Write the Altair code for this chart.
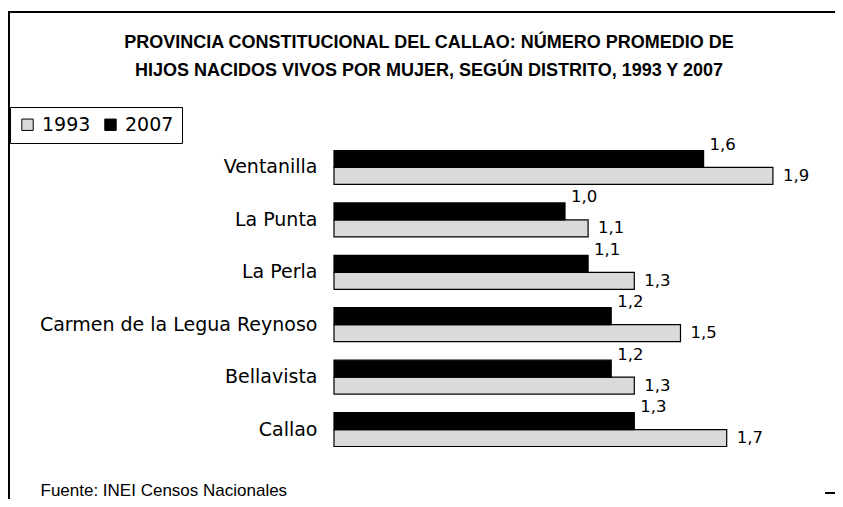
import altair as alt
import pandas as pd

distritos = ["Ventanilla", "La Punta", "La Perla", "Carmen de la Legua Reynoso", "Bellavista", "Callao"]
valores_1993 = [1.9, 1.1, 1.3, 1.5, 1.3, 1.7]
valores_2007 = [1.6, 1.0, 1.1, 1.2, 1.2, 1.3]
anios = ["1993", "2007"]

titulo = ["PROVINCIA CONSTITUCIONAL DEL CALLAO: NÚMERO PROMEDIO DE",
          "HIJOS NACIDOS VIVOS POR MUJER, SEGÚN DISTRITO, 1993 Y 2007"]
fuente = "Fuente: INEI Censos Nacionales"

rows = []
for d, a, b in zip(distritos, valores_1993, valores_2007):
    rows.append({"distrito": d, "anio": "1993", "valor": a})
    rows.append({"distrito": d, "anio": "2007", "valor": b})
df = pd.DataFrame(rows)
df["etiqueta"] = df["valor"].map(lambda v: f"{v:.1f}".replace(".", ","))

W, H = 462, 317
LEFT, TOP = 326, 132
OX, OY = LEFT + 8, TOP + 8  # plot origin on the page

LABEL_FONT = "DejaVu Sans"

base = alt.Chart(df).encode(
    y=alt.Y("distrito:N", sort=distritos,
            scale=alt.Scale(paddingInner=0.352, paddingOuter=0.2),
            axis=alt.Axis(title=None, ticks=False, domain=False, labelPadding=17,
                          labelFontSize=19, labelFont=LABEL_FONT, labelColor="black",
                          labelLimit=0)),
    yOffset=alt.YOffset("anio:N", sort=["2007", "1993"]),
    x=alt.X("valor:Q", scale=alt.Scale(domain=[0, 2], nice=False),
            axis=alt.Axis(title=fuente, labels=False, ticks=False, domain=False, grid=False,
                          titleX=40 - OX, titleY=490 - OY - H, titleAnchor="start",
                          titleAlign="left", titleBaseline="middle", titleFontSize=17,
                          titleFont="Liberation Sans", titleFontWeight="normal",
                          titleColor="black")),
)

bars = base.mark_bar(stroke="black", strokeWidth=1.2).encode(
    color=alt.Color("anio:N", scale=alt.Scale(domain=anios, range=["#dadada", "black"]),
                    legend=alt.Legend(title=None, orient="none", legendX=10 - OX,
                                      legendY=107 - OY, direction="horizontal",
                                      symbolType="square", symbolSize=130,
                                      symbolStrokeColor="black", symbolStrokeWidth=1,
                                      labelFontSize=19, labelFont=LABEL_FONT,
                                      labelColor="black", strokeColor="black", padding=8,
                                      columnPadding=10, labelOffset=5))
)

txt2007 = base.transform_filter(alt.datum.anio == "2007").mark_text(
    align="left", baseline="middle", dx=6, dy=-14, fontSize=16.5, font=LABEL_FONT, color="black"
).encode(text="etiqueta:N")

txt1993 = base.transform_filter(alt.datum.anio == "1993").mark_text(
    align="left", baseline="middle", dx=10, dy=0, fontSize=16.5, font=LABEL_FONT, color="black"
).encode(text="etiqueta:N")

frame_top = alt.Chart(df).mark_rule(color="black", strokeWidth=2).encode(
    x=alt.value(8 - OX), x2=alt.value(835 - OX), y=alt.value(12 - OY))
frame_left = alt.Chart(df).mark_rule(color="black", strokeWidth=2).encode(
    x=alt.value(9 - OX), y=alt.value(12 - OY), y2=alt.value(499 - OY))
frame_dash = alt.Chart(df).mark_rule(color="black", strokeWidth=2).encode(
    x=alt.value(825 - OX), x2=alt.value(835 - OX), y=alt.value(493 - OY))

chart = alt.layer(bars, txt2007, txt1993, frame_top, frame_left, frame_dash).properties(
    width=W, height=H,
    autosize=alt.AutoSizeParams(type="none"),
    padding={"left": LEFT, "top": TOP, "right": 827 - LEFT - W, "bottom": 491 - TOP - H},
    title=alt.TitleParams(text=titulo, anchor="middle", dx=429 - (OX + W / 2), fontSize=18,
                          font="Liberation Sans", fontWeight="bold", color="black",
                          lineHeight=28, offset=-69),
).configure_view(stroke=None)

chart.save("out.html", embed_options={"renderer": "svg", "actions": False})
